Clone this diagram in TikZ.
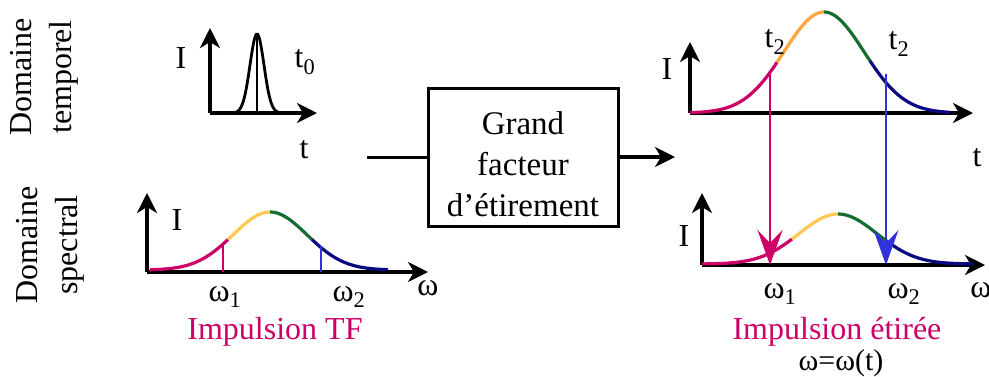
\documentclass[tikz,border=0pt]{standalone}
\usepackage{fontspec}
\setmainfont{Liberation Serif}
\usetikzlibrary{arrows.meta}
\definecolor{mag}{RGB}{204,0,102}
\definecolor{ora}{RGB}{255,165,60}
\definecolor{yel}{RGB}{255,200,80}
\definecolor{grn}{RGB}{20,110,50}
\definecolor{nav}{RGB}{10,10,130}
\definecolor{blu}{RGB}{50,50,220}
\begin{document}
\begin{tikzpicture}[x=1pt,y=-1pt,
  axis/.style={line width=3.2pt,-{Stealth[length=20pt,width=20pt,inset=6pt]}},
  curve/.style={line width=3.2pt,smooth,samples=30},
  marker/.style={line width=2.5pt},
  bigarrow/.style={line width=2.2pt,-{Stealth[length=35pt,width=25pt,inset=13pt]}},
  lbl/.style={font=\fontsize{32}{40}\selectfont,inner sep=0pt},
  small/.style={font=\fontsize{30}{34}\selectfont,inner sep=0pt}
]
\useasboundingbox (0,0) rectangle (989,376);

% side labels
\node[lbl,rotate=90,align=center] (dtemp) at (44,77) {Domaine\\temporel};
\node[lbl,rotate=90,align=center] (dspec) at (50,245) {Domaine\\spectral};

% ---- top left : short pulse
\coordinate (o1) at (210,113);
\coordinate (y1) at (210,28);
\coordinate (x1) at (317,113);
\draw[axis] (o1) -- (y1);
\draw[axis] (o1) -- (x1);
\draw[line width=2.8pt,smooth,samples=40] plot[domain=230:284] (\x,{113-79*exp(-0.5*((\x-257)/7)^2)});
\coordinate (p1t) at (257,34);
\coordinate (p1b) at (257,113);
\draw[line width=2.8pt] (p1t) -- (p1b);
\node[lbl] (I1) at (181,58) {I};
\node[lbl] (t0) at (305,62) {t\textsubscript{0}};
\node[lbl] (t1) at (304,150) {t};

% ---- bottom left : spectrum
\coordinate (o2) at (147,272);
\coordinate (y2) at (147,193);
\coordinate (x2) at (428,272);
\draw[axis] (o2) -- (y2);
\draw[axis] (o2) -- (x2);
\draw[curve,mag] plot[domain=150:228] (\x,{270-58*exp(-0.5*((\x-270)/37)^2)});
\draw[curve,yel] plot[domain=228:270] (\x,{270-58*exp(-0.5*((\x-270)/37)^2)});
\draw[curve,grn] plot[domain=270:312] (\x,{270-58*exp(-0.5*((\x-270)/37)^2)});
\draw[curve,nav] plot[domain=312:388] (\x,{270-58*exp(-0.5*((\x-270)/37)^2)});
\coordinate (m1t) at (223,245);
\coordinate (m1b) at (223,272);
\coordinate (m2t) at (321,246);
\coordinate (m2b) at (321,272);
\draw[marker,mag] (m1t) -- (m1b);
\draw[marker,blu] (m2t) -- (m2b);
\node[lbl] (I2) at (177,220) {I};
\node[lbl] (w1) at (225,297) {ω\textsubscript{1}};
\node[lbl] (w2) at (349,297) {ω\textsubscript{2}};
\node[lbl] (wax1) at (428,288) {ω};
\node[lbl,text=mag] (imp1) at (275,332) {Impulsion TF};

% ---- box
\node[draw,line width=3pt,minimum width=190pt,minimum height=138pt,inner sep=0pt] (box) at (523,157) {};
\node[font=\fontsize{33}{41}\selectfont,align=center,inner sep=0pt] (boxtext) at (523,164) {Grand\\facteur\\d’étirement};
\coordinate (inL) at (367,157);
\coordinate (outR) at (675,157);
\draw[line width=3pt] (inL) -- (box.west);
\draw[axis] (box.east) -- (outR);

% ---- top right : stretched pulse
\coordinate (o3) at (690,113);
\coordinate (y3) at (690,42);
\coordinate (x3) at (973,113);
\draw[axis] (o3) -- (y3);
\draw[axis] (o3) -- (x3);
\draw[curve,mag] plot[domain=690:777] (\x,{113-101*exp(-0.5*((\x-824)/40)^2)});
\draw[curve,ora] plot[domain=777:824] (\x,{113-101*exp(-0.5*((\x-824)/40)^2)});
\draw[curve,grn] plot[domain=824:870] (\x,{113-101*exp(-0.5*((\x-824)/40)^2)});
\draw[curve,nav] plot[domain=870:950] (\x,{113-101*exp(-0.5*((\x-824)/40)^2)});
\node[lbl] (I3) at (667,69) {I};
\node[lbl] (t2a) at (775,42) {t\textsubscript{2}};
\node[lbl] (t2b) at (899,44) {t\textsubscript{2}};
\node[lbl] (t3) at (977,158) {t};

% ---- bottom right : stretched spectrum
\coordinate (o4) at (702,265);
\coordinate (y4) at (702,193);
\coordinate (x4) at (985,265);
\draw[axis] (o4) -- (y4);
\draw[axis] (o4) -- (x4);
\draw[curve,mag] plot[domain=702:792] (\x,{264-50*exp(-0.5*((\x-838)/39)^2)});
\draw[curve,yel] plot[domain=792:838] (\x,{264-50*exp(-0.5*((\x-838)/39)^2)});
\draw[curve,grn] plot[domain=838:887] (\x,{264-50*exp(-0.5*((\x-838)/39)^2)});
\draw[curve,nav] plot[domain=887:973] (\x,{264-50*exp(-0.5*((\x-838)/39)^2)});
\node[lbl] (I4) at (684,236) {I};
\node[lbl] (w1b) at (780,294) {ω\textsubscript{1}};
\node[lbl] (w2b) at (904,294) {ω\textsubscript{2}};
\node[lbl] (wax2) at (981,290) {ω};
\node[lbl,text=mag] (imp2) at (837,332) {Impulsion étirée};
\node[small] (omt) at (841,363) {ω=ω(t)};

% ---- mapping arrows
\coordinate (a1t) at (770,73);
\coordinate (a1b) at (770,265);
\coordinate (a2t) at (886,74);
\coordinate (a2b) at (886,265);
\draw[bigarrow,mag] (a1t) -- (a1b);
\draw[bigarrow,blu] (a2t) -- (a2b);
\end{tikzpicture}
\end{document}
